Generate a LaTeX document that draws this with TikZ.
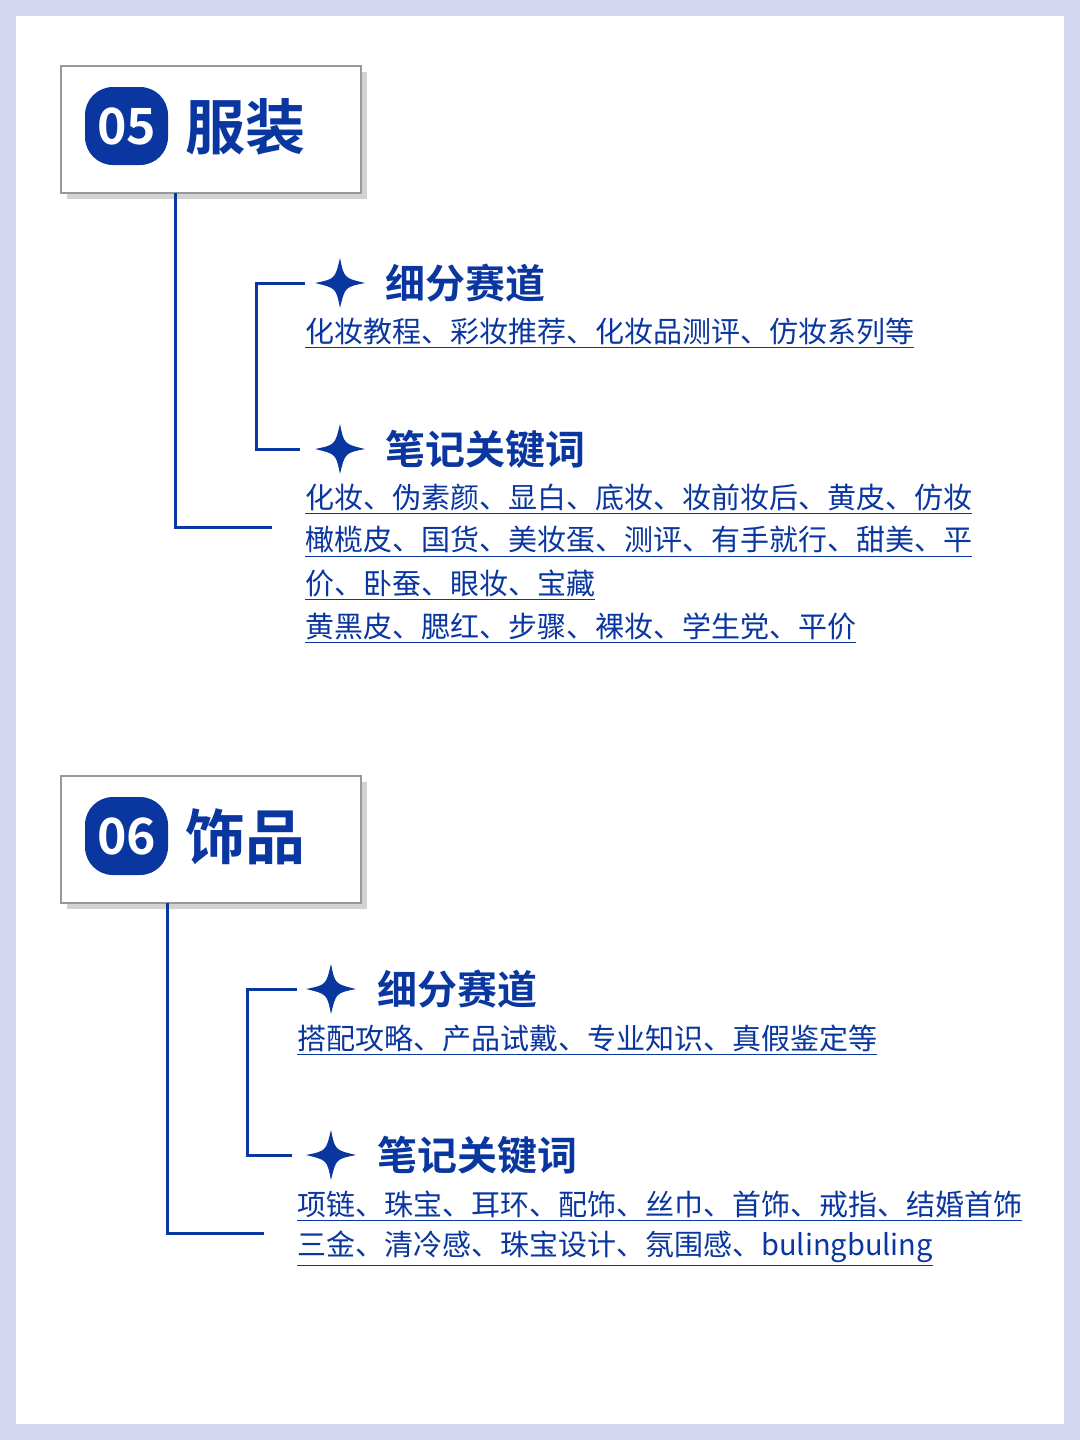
\documentclass[tikz,border=0pt]{standalone}
\usepackage{fontspec}
\setmainfont{Noto Sans CJK SC}
\newfontfamily\cjkb{Noto Sans CJK SC Bold}
\usetikzlibrary{shadows}
\definecolor{bl}{HTML}{0A36A0}
\definecolor{bg}{HTML}{D3D7F2}
\tikzset{
 titlebox/.style={draw=gray!80,line width=1pt,fill=white,drop shadow={shadow xshift=3pt,shadow yshift=-3pt,opacity=0.35}},
 badge/.style={fill=bl,rounded corners=14pt},
 conn/.style={draw=bl,line width=1.5pt},
 body/.style={anchor=west,text=bl,font=\fontsize{14.5pt}{16pt}\selectfont,inner sep=0pt},
 head/.style={anchor=west,text=bl,font=\cjkb\fontsize{20pt}{22pt}\selectfont,inner sep=0pt},
 big/.style={anchor=west,text=bl,font=\cjkb\fontsize{30pt}{32pt}\selectfont,inner sep=0pt},
}
\newcommand{\mystar}[2]{\fill[bl] (#1,#2) ++(0,-25) .. controls +(4,20) .. ++(25,25) .. controls +(-20,4) .. ++(-25,25) .. controls +(-4,-20) .. ++(-25,-25) .. controls +(20,-4) .. ++(25,-25) -- cycle;}
\begin{document}
\begin{tikzpicture}[x=0.5pt,y=-0.5pt]
\fill[bg] (0,0) rectangle (1080,1440);
\fill[white] (16,16) rectangle (1064,1424);
% section 05
\node[titlebox,minimum width=150pt,minimum height=63.5pt,anchor=north west] (t1) at (60,65) {};
\fill[badge] (85,87) rectangle (168,165);
\node[text=white,font=\cjkb\fontsize{25pt}{27pt}\selectfont] (n1) at (126.5,126) {05};
\node[big] (h1) at (185,127) {服装};
\coordinate (a1) at (175,193);
\coordinate (a2) at (175,527);
\coordinate (a3) at (272,527);
\draw[conn] (a1) -- (a2) -- (a3);
\coordinate (b1) at (305,283);
\coordinate (b2) at (256,283);
\coordinate (b3) at (256,449);
\coordinate (b4) at (300,449);
\draw[conn] (b1) -- (b2) -- (b3) -- (b4);
\mystar{340}{283}
\mystar{340}{449}
\node[head] (s1) at (385,283) {细分赛道};
\node[body] (l1) at (305,333) {\underline{化妆教程、彩妆推荐、化妆品测评、仿妆系列等}};
\node[head] (s2) at (385,449) {笔记关键词};
\node[body] (l2) at (305,499) {\underline{化妆、伪素颜、显白、底妆、妆前妆后、黄皮、仿妆}};
\node[body] (l3) at (305,542) {\underline{橄榄皮、国货、美妆蛋、测评、有手就行、甜美、平}};
\node[body] (l4) at (305,585) {\underline{价、卧蚕、眼妆、宝藏}};
\node[body] (l5) at (305,628) {\underline{黄黑皮、腮红、步骤、裸妆、学生党、平价}};
% section 06
\node[titlebox,minimum width=150pt,minimum height=63.5pt,anchor=north west] (t2) at (60,775) {};
\fill[badge] (85,797) rectangle (168,875);
\node[text=white,font=\cjkb\fontsize{25pt}{27pt}\selectfont] (n2) at (126.5,836) {06};
\node[big] (h2) at (185,837) {饰品};
\coordinate (c1) at (167,903);
\coordinate (c2) at (167,1233);
\coordinate (c3) at (264,1233);
\draw[conn] (c1) -- (c2) -- (c3);
\coordinate (d1) at (297,989);
\coordinate (d2) at (247,989);
\coordinate (d3) at (247,1155);
\coordinate (d4) at (292,1155);
\draw[conn] (d1) -- (d2) -- (d3) -- (d4);
\mystar{331}{989}
\mystar{331}{1155}
\node[head] (s3) at (377,989) {细分赛道};
\node[body] (m1) at (297,1040) {\underline{搭配攻略、产品试戴、专业知识、真假鉴定等}};
\node[head] (s4) at (377,1155) {笔记关键词};
\node[body] (m2) at (297,1206) {\underline{项链、珠宝、耳环、配饰、丝巾、首饰、戒指、结婚首饰}};
\node[body] (m3) at (297,1249) {\underline{三金、清冷感、珠宝设计、氛围感、bulingbuling}};
\end{tikzpicture}
\end{document}
